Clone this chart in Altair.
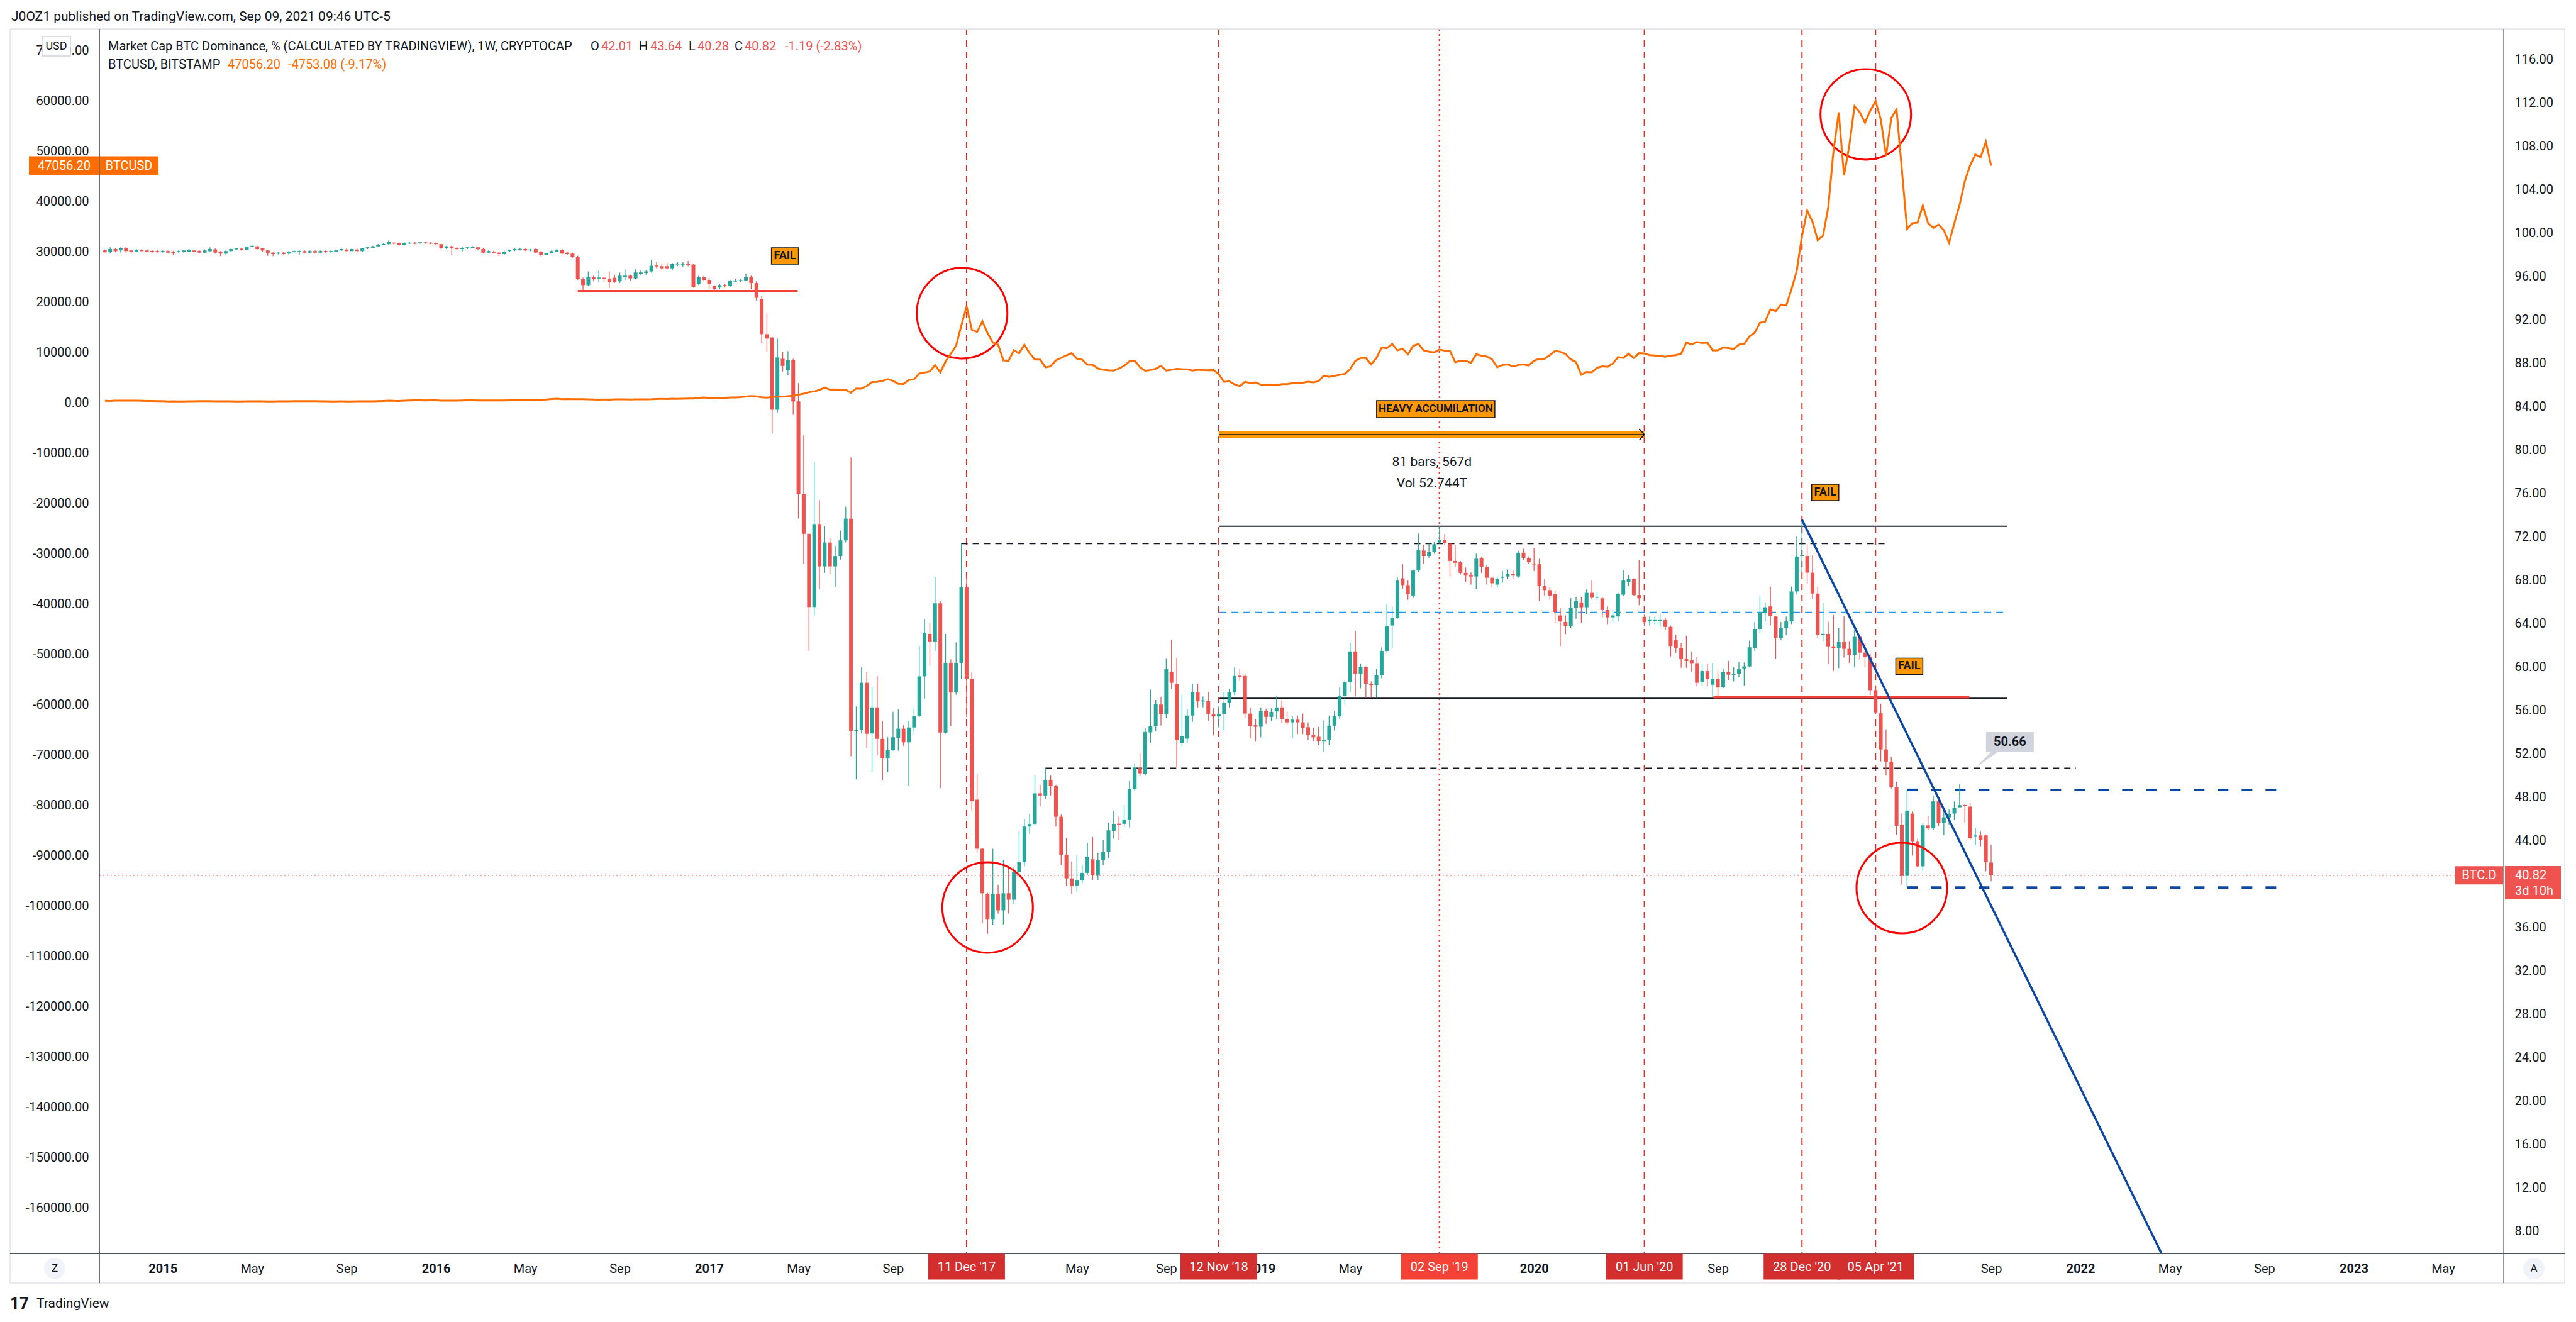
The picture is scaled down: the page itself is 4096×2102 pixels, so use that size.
import altair as alt
import numpy as np
import pandas as pd

W, H = 3823, 1947
FONT = "Roboto"
INK = "#131722"
UP = "#26a69a"
DOWN = "#ef5350"
ORANGE = "#ff6d00"

FIRST_WEEK = "2014-10-20"

# ---------------- BTC.D weekly candles (%) ----------------
btcd_open = [
    98.42, 98.28, 98.55, 98.42, 98.61, 98.42, 98.32, 98.48, 98.42, 98.38,
    98.36, 98.28, 98.36, 98.32, 98.28, 98.28, 98.32, 98.42, 98.38, 98.22,
    98.36, 98.51, 98.28, 98.13, 98.36, 98.51, 98.59, 98.48, 98.77, 98.80,
    98.61, 98.42, 98.22, 98.13, 98.22, 98.13, 98.28, 98.28, 98.36, 98.22,
    98.36, 98.22, 98.36, 98.28, 98.32, 98.42, 98.51, 98.36, 98.51, 98.36,
    98.61, 98.67, 98.80, 98.94, 99.00, 99.13, 99.09, 98.94, 99.06, 99.13,
    99.09, 99.15, 99.13, 99.09, 99.00, 98.61, 98.80, 98.67, 98.55, 98.61,
    98.67, 98.71, 98.55, 98.22, 98.32, 98.22, 98.09, 98.36, 98.44, 98.48,
    98.55, 98.42, 98.55, 98.28, 98.03, 98.17, 98.32, 98.48, 98.22, 98.13,
    97.84, 95.77, 95.23, 95.96, 95.85, 95.91, 95.81, 95.91, 95.58, 96.00,
    96.10, 95.85, 96.29, 96.35, 96.49, 97.01, 96.97, 96.97, 96.77, 97.16,
    97.12, 97.20, 97.12, 95.33, 95.96, 95.71, 95.13, 95.00, 95.23, 95.13,
    95.58, 95.62, 95.66, 96.00,
    95.42, 93.93, 90.7, 90.4, 83.74, 88.44, 87.4, 88.3, 84.5, 76.0,
    72.3, 65.55, 73.2, 69.3, 71.5, 69.3, 70.25, 71.7, 73.7, 54.14,
    54.26, 58.57, 53.9, 56.3, 53.4, 51.6, 52.38, 53.5, 54.34, 53.08,
    54.45, 55.5, 59.16, 63.08, 62.37, 65.9, 53.98, 60.41, 57.67, 60.41,
    67.39, 58.96, 47.8, 43.28, 39.1, 36.74, 39.1, 37.6, 39.17, 38.58,
    41.13, 42.03, 45.32, 45.56, 48.38, 48.18, 49.63, 49.05, 46.22, 42.7,
    40.54, 39.89, 40.34, 41.05, 42.3, 40.8, 42.2, 42.98, 44.92, 45.57,
    45.57, 45.92, 48.76, 50.72, 50.15, 54.0, 54.55, 56.56, 55.68, 59.57,
    58.44, 53.04, 53.42, 55.55, 57.74, 56.86, 56.88, 55.68, 55.47, 55.68,
    56.73, 57.69, 59.2, 59.2, 55.73, 54.67, 54.52, 55.98, 55.43, 55.93,
    56.3, 55.22, 54.92, 55.17, 54.92, 54.47, 53.79, 53.59, 53.21, 53.34,
    54.62, 55.47, 57.39, 58.62, 61.46, 59.4, 60.03, 58.49, 58.37, 59.25,
    61.51, 63.85, 64.53, 68.2, 67.57, 66.61, 68.92, 70.76, 70.26, 70.63,
    71.51, 71.71, 71.39, 69.8, 69.68, 68.7, 68.45, 68.37, 70.08, 69.25,
    68.25, 67.62, 68.25, 68.37, 68.62, 68.37, 70.56, 70.06, 69.55, 69.5,
    67.49, 67.11, 66.74, 64.78, 64.17, 63.8, 65.48, 65.98, 65.53, 66.86,
    66.41, 66.36, 65.28, 64.6, 64.68, 66.69, 67.87, 68.17, 66.66, 64.65,
    64.27, 64.27, 64.27, 64.35, 63.72, 62.51, 61.76, 60.75, 60.63, 60.38,
    58.64, 59.65, 58.39, 58.9, 58.14, 59.57, 59.3, 59.37, 59.9, 60.08,
    61.76, 63.54, 64.98, 65.61, 64.68, 62.72, 63.6, 64.22, 66.99, 70.26,
    70.26, 68.72, 66.8, 63.0, 63.08, 61.93, 61.75, 62.36, 61.7, 61.16,
    62.81, 61.35, 60.95, 57.89, 55.76, 52.43, 51.31, 48.97, 45.51, 40.77,
    46.52, 43.97, 41.65, 45.43, 45.16, 47.64, 45.64, 46.17, 46.52, 47.1,
    47.29, 47.16, 44.37, 44.5, 44.5, 42.01,
]
btcd_high = [
    98.51, 98.71, 98.61, 98.71, 98.80, 98.48, 98.55, 98.55, 98.55, 98.44,
    98.42, 98.42, 98.42, 98.36, 98.42, 98.48, 98.55, 98.48, 98.42, 98.51,
    98.71, 98.61, 98.36, 98.42, 98.61, 98.67, 98.65, 98.80, 98.90, 98.86,
    98.67, 98.48, 98.28, 98.28, 98.28, 98.36, 98.42, 98.42, 98.42, 98.42,
    98.42, 98.42, 98.42, 98.42, 98.51, 98.61, 98.59, 98.61, 98.59, 98.67,
    98.75, 98.86, 99.02, 99.09, 99.35, 99.21, 99.15, 99.17, 99.21, 99.19,
    99.23, 99.21, 99.19, 99.17, 99.06, 98.86, 98.86, 98.75, 98.75, 98.78,
    98.82, 98.78, 98.61, 98.42, 98.40, 98.28, 98.40, 98.51, 98.61, 98.63,
    98.61, 98.57, 98.61, 98.36, 98.22, 98.42, 98.55, 98.55, 98.28, 98.21,
    97.93, 95.91, 96.49, 96.10, 96.58, 96.00, 96.49, 96.19, 96.39, 96.68,
    96.19, 96.68, 96.58, 96.62, 97.55, 97.35, 97.16, 97.26, 97.26, 97.35,
    97.35, 97.45, 97.16, 96.10, 96.10, 95.91, 95.23, 95.33, 95.33, 95.71,
    95.81, 95.77, 96.29, 96.10,
    95.6, 94.2, 92.6, 90.4, 90.3, 89.07, 89.15, 88.44, 86.2, 81.4,
    72.3, 78.96, 75.4, 73.0, 71.9, 71.2, 72.6, 74.8, 79.35, 56.4,
    60.0, 59.6, 58.18, 59.16, 55.04, 53.55, 55.9, 56.1, 54.65, 55.05,
    56.2, 61.98, 64.45, 64.06, 68.3, 66.1, 63.08, 60.73, 62.3, 71.43,
    68.4, 59.55, 50.14, 43.35, 39.2, 43.28, 39.95, 42.22, 41.7, 41.6,
    44.85, 46.03, 46.5, 50.03, 49.17, 50.73, 50.03, 49.17, 46.42, 44.26,
    42.1, 42.65, 41.8, 43.81, 44.36, 42.9, 44.06, 45.67, 46.75, 46.25,
    47.3, 49.52, 51.15, 52.03, 54.37, 57.94, 56.98, 57.26, 60.78, 62.54,
    60.88, 57.49, 56.18, 58.49, 58.49, 57.31, 57.74, 56.23, 56.43, 57.69,
    57.99, 59.99, 59.82, 59.45, 56.3, 55.2, 56.3, 56.18, 56.23, 57.31,
    56.93, 55.93, 55.48, 55.55, 55.73, 54.92, 54.42, 54.5, 55.1, 55.55,
    55.98, 58.14, 58.82, 62.21, 63.34, 60.33, 60.08, 58.69, 59.82, 61.84,
    65.78, 65.61, 68.3, 69.5, 68.0, 69.0, 72.32, 71.31, 71.39, 71.56,
    72.97, 72.27, 71.39, 71.31, 69.8, 69.2, 68.75, 70.46, 70.18, 69.45,
    68.3, 68.37, 68.87, 69.0, 68.92, 70.76, 70.93, 70.21, 70.96, 70.0,
    68.12, 67.37, 67.04, 65.48, 64.78, 66.36, 66.49, 66.49, 67.19, 67.99,
    66.94, 66.49, 65.61, 65.23, 66.86, 68.95, 68.5, 68.2, 69.88, 64.85,
    64.68, 64.68, 64.85, 64.53, 63.85, 63.02, 62.21, 62.89, 61.46, 60.96,
    60.33, 60.33, 60.4, 59.65, 59.9, 60.58, 60.0, 60.5, 60.45, 62.46,
    64.17, 66.54, 65.98, 67.44, 64.73, 64.17, 64.68, 67.44, 72.07, 73.6,
    71.33, 70.32, 67.47, 65.95, 64.2, 64.81, 63.61, 64.73, 62.41, 63.42,
    62.86, 62.22, 61.21, 58.34, 56.63, 54.29, 51.76, 49.45, 46.52, 48.7,
    46.71, 44.18, 45.64, 46.31, 48.17, 47.69, 46.84, 46.89, 47.64, 49.23,
    47.42, 47.5, 45.19, 44.85, 44.58, 43.64,
]
btcd_low = [
    98.21, 98.13, 98.28, 98.22, 98.22, 98.21, 98.24, 98.28, 98.22, 98.22,
    98.22, 98.22, 98.17, 98.03, 98.22, 98.22, 98.26, 98.26, 98.17, 98.17,
    98.28, 98.13, 97.90, 98.05, 98.28, 98.42, 98.40, 98.42, 98.71, 98.51,
    98.32, 97.93, 97.90, 98.05, 98.01, 98.05, 98.22, 98.03, 98.17, 98.17,
    98.17, 98.17, 98.22, 98.22, 98.26, 98.36, 98.28, 98.28, 98.28, 98.28,
    98.55, 98.61, 98.75, 98.90, 98.94, 98.98, 98.86, 98.90, 99.02, 99.00,
    99.04, 99.04, 99.00, 98.94, 98.51, 98.55, 97.97, 98.48, 98.32, 98.55,
    98.61, 98.48, 98.17, 98.17, 98.13, 97.90, 98.03, 98.28, 98.36, 98.42,
    98.36, 98.36, 98.17, 97.84, 97.97, 98.13, 98.28, 98.07, 97.97, 97.74,
    95.71, 94.75, 95.13, 95.58, 95.52, 95.52, 94.94, 95.42, 95.42, 95.71,
    95.62, 95.77, 96.10, 96.19, 96.39, 96.77, 96.58, 96.68, 96.58, 96.97,
    96.87, 96.97, 95.00, 95.23, 95.58, 94.84, 94.75, 94.84, 95.00, 95.04,
    95.52, 95.52, 95.58, 94.84,
    93.8, 89.9, 89.07, 81.6, 83.5, 87.27, 86.9, 83.27, 73.7, 69.5,
    61.5, 64.8, 67.2, 68.7, 68.6, 67.4, 69.9, 71.5, 51.8, 49.67,
    53.9, 52.57, 50.34, 51.9, 49.56, 50.34, 52.3, 52.3, 52.77, 49.1,
    53.87, 55.4, 57.08, 60.14, 61.5, 48.85, 53.87, 54.57, 57.47, 58.9,
    55.4, 46.8, 42.9, 36.4, 35.44, 36.23, 37.3, 36.3, 37.3, 38.2,
    40.93, 41.64, 44.65, 45.44, 47.2, 47.87, 48.18, 45.32, 41.8, 39.85,
    39.1, 39.29, 40.09, 40.85, 40.34, 40.34, 41.72, 42.4, 44.21, 44.11,
    45.25, 45.25, 48.59, 49.97, 50.02, 53.04, 54.12, 54.62, 55.3, 57.99,
    50.78, 52.71, 53.04, 54.97, 56.3, 56.3, 55.05, 53.72, 54.42, 54.17,
    56.3, 57.44, 58.74, 55.38, 53.46, 53.2, 53.54, 54.8, 55.05, 55.17,
    54.87, 54.67, 53.46, 53.84, 53.84, 53.29, 53.21, 52.86, 52.21, 52.86,
    54.17, 55.22, 56.56, 57.69, 57.31, 58.07, 57.19, 57.19, 57.19, 58.99,
    61.26, 61.71, 64.48, 67.24, 66.23, 66.36, 68.75, 69.55, 70.06, 70.46,
    71.39, 71.26, 68.37, 69.25, 68.55, 67.87, 67.62, 67.24, 68.7, 67.62,
    67.37, 67.32, 67.79, 68.12, 68.12, 68.25, 69.88, 69.55, 68.87, 66.11,
    66.61, 66.23, 64.1, 61.96, 63.04, 63.6, 64.48, 64.1, 64.93, 66.28,
    66.18, 64.6, 63.97, 64.1, 64.22, 66.54, 67.49, 66.61, 65.73, 63.8,
    63.85, 63.97, 63.72, 63.42, 61.0, 61.33, 59.95, 59.95, 59.57, 58.24,
    58.32, 58.24, 57.19, 57.39, 58.07, 58.82, 58.69, 59.07, 58.32, 60.0,
    61.51, 63.17, 64.22, 63.85, 60.75, 62.51, 62.97, 63.97, 66.74, 68.75,
    67.65, 66.32, 62.73, 62.41, 60.28, 59.67, 59.93, 60.9, 60.4, 60.02,
    60.73, 60.02, 57.43, 55.68, 51.31, 50.03, 48.84, 44.58, 39.97, 39.71,
    42.64, 41.57, 41.2, 45.03, 44.98, 45.38, 44.5, 45.51, 45.91, 47.05,
    45.7, 44.05, 43.6, 43.51, 41.2, 40.28,
]
btcd_close = [
    98.28, 98.55, 98.36, 98.61, 98.36, 98.28, 98.48, 98.36, 98.32, 98.28,
    98.28, 98.36, 98.22, 98.17, 98.36, 98.42, 98.48, 98.32, 98.22, 98.42,
    98.55, 98.22, 98.13, 98.36, 98.55, 98.61, 98.48, 98.77, 98.84, 98.55,
    98.42, 98.19, 98.09, 98.22, 98.09, 98.28, 98.36, 98.36, 98.22, 98.36,
    98.22, 98.36, 98.28, 98.36, 98.44, 98.55, 98.36, 98.55, 98.36, 98.61,
    98.71, 98.80, 98.96, 99.00, 99.19, 99.06, 98.94, 99.09, 99.13, 99.06,
    99.17, 99.09, 99.06, 99.00, 98.61, 98.80, 98.61, 98.55, 98.67, 98.71,
    98.75, 98.55, 98.22, 98.36, 98.19, 98.09, 98.32, 98.48, 98.55, 98.55,
    98.42, 98.51, 98.22, 98.03, 98.17, 98.36, 98.48, 98.13, 98.09, 97.84,
    95.77, 95.23, 95.96, 95.77, 95.91, 95.81, 95.52, 95.52, 96.10, 96.10,
    95.85, 96.39, 96.39, 96.49, 97.01, 96.97, 96.77, 96.77, 97.16, 97.20,
    97.20, 97.06, 95.07, 95.96, 95.71, 95.33, 94.84, 95.23, 95.13, 95.62,
    95.62, 95.66, 96.00, 95.42,
    94.05, 90.7, 90.3, 83.74, 88.56, 87.78, 88.3, 84.5, 76.0, 72.3,
    65.55, 73.2, 69.3, 71.5, 69.3, 70.25, 71.7, 73.7, 54.14, 54.26,
    58.57, 53.87, 56.3, 53.4, 51.6, 52.38, 53.55, 54.34, 53.08, 54.45,
    55.5, 59.16, 63.16, 62.37, 65.9, 53.98, 60.41, 57.67, 60.41, 67.39,
    58.96, 47.67, 43.28, 39.17, 36.74, 39.1, 37.6, 39.17, 38.58, 41.13,
    42.03, 45.32, 45.56, 48.38, 48.18, 49.63, 49.05, 46.22, 42.7, 40.54,
    39.86, 40.34, 41.05, 42.55, 40.8, 42.2, 42.98, 44.97, 45.57, 45.52,
    45.92, 48.76, 50.77, 50.22, 54.04, 54.55, 56.63, 55.68, 59.82, 58.57,
    53.29, 53.67, 55.55, 57.74, 56.86, 56.93, 55.68, 55.47, 55.68, 56.73,
    57.69, 59.2, 59.15, 55.73, 54.55, 54.52, 55.98, 55.43, 55.88, 56.3,
    55.22, 54.92, 55.17, 54.92, 54.42, 53.79, 53.54, 53.21, 53.34, 54.62,
    55.47, 57.39, 58.62, 61.46, 59.4, 60.03, 58.49, 58.37, 59.25, 61.51,
    63.8, 64.53, 67.99, 67.57, 66.74, 68.92, 70.81, 70.26, 70.63, 71.34,
    71.71, 71.46, 69.8, 69.63, 68.7, 68.45, 68.37, 70.01, 69.25, 68.25,
    67.74, 68.12, 68.35, 68.62, 68.45, 70.56, 70.06, 69.7, 69.5, 67.49,
    67.11, 66.61, 65.1, 64.22, 63.8, 65.48, 66.11, 65.53, 66.86, 66.41,
    66.49, 65.28, 64.6, 64.78, 66.79, 67.99, 68.17, 66.66, 66.36, 64.17,
    64.35, 64.35, 64.35, 63.72, 61.96, 61.76, 60.75, 60.58, 60.38, 58.57,
    59.65, 58.9, 58.9, 58.14, 59.57, 59.32, 59.37, 59.82, 60.08, 61.84,
    63.54, 65.05, 65.53, 64.73, 62.72, 63.6, 64.22, 66.99, 70.21, 70.35,
    68.72, 66.8, 63.0, 63.08, 61.93, 61.75, 62.36, 61.7, 61.16, 62.81,
    61.35, 60.95, 57.89, 55.84, 52.43, 51.31, 48.97, 45.38, 40.77, 46.79,
    43.97, 41.65, 45.43, 45.16, 47.64, 45.64, 46.17, 46.44, 47.05, 47.29,
    47.24, 44.23, 44.5, 44.05, 42.05, 40.82,
]

# ---------------- BTCUSD weekly close (USD) ----------------
btcusd_close = [
    355, 325, 375, 390, 375, 380, 375, 350, 320, 315,
    275, 270, 210, 250, 230, 225, 260, 245, 275, 275,
    285, 260, 250, 255, 235, 225, 230, 240, 240, 235,
    240, 230, 230, 235, 245, 250, 270, 290, 275, 290,
    280, 265, 265, 230, 230, 240, 230, 230, 235, 240,
    245, 265, 285, 325, 380, 330, 325, 360, 395, 435,
    440, 420, 430, 450, 380, 385, 380, 375, 400, 440,
    435, 410, 415, 410, 415, 420, 420, 430, 460, 450,
    460, 455, 445, 530, 580, 685, 760, 665, 700, 650,
    665, 660, 625, 590, 570, 580, 575, 610, 610, 610,
    600, 610, 615, 640, 655, 700, 705, 700, 735, 730,
    765, 775, 790, 900, 1000, 905,
    820, 920, 920, 1010, 1000, 1050, 1190, 1270, 1230, 1020,
    960, 1080, 1180, 1170, 1250, 1350, 1550, 1750, 2050, 2200,
    2500, 2950, 2550, 2600, 2500, 2500, 1950, 2790, 2750, 3300,
    4060, 4100, 4300, 4650, 4300, 3725, 3700, 4475, 4600, 5750,
    5950, 6175, 7440, 6000, 8125, 9700, 11250, 15300, 19100, 14450,
    14025, 16140, 13775, 11910, 11500, 8375, 8300, 10400, 9800, 11500,
    9800, 8540, 8540, 7010, 7180, 8375, 8875, 9375, 9800, 8700,
    8500, 7500, 7500, 6750, 6500, 6400, 6350, 6750, 7300, 8200,
    8290, 7000, 6300, 6450, 6700, 7300, 6340, 6500, 6700, 6620,
    6600, 6340, 6500, 6450, 6400, 6450, 5600, 4110, 4220, 3600,
    3270, 4110, 3850, 4000, 3550, 3550, 3550, 3450, 3650, 3650,
    3850, 3850, 3950, 4110, 4000, 4220, 5340, 5100, 5300, 5500,
    5700, 6620, 8290, 8850, 8850, 7570, 8850, 10915, 10800, 11640,
    10360, 10700, 9580, 11250, 11640, 10360, 10100, 9970, 10525, 10300,
    10250, 8010, 8290, 8290, 7900, 9580, 9300, 9125, 8570, 7010,
    7455, 7570, 7180, 7455, 7570, 7350, 8290, 8680, 8680, 9410,
    10250, 10080, 9650, 8570, 8010, 5500, 6060, 6000, 6900, 7180,
    7100, 7740, 9020, 8850, 9690, 8850, 9800, 9750, 9410, 9350,
    9240, 9100, 9300, 9410, 9700, 11920, 11550, 12030, 11800, 11920,
    10360, 10375, 10930, 10800, 10650, 11500, 11640, 13125, 13870, 15830,
    16100, 18500, 18160, 19450, 19300, 22500, 26150, 33125, 38125, 35900,
    32290, 33125, 38750, 50000, 57675, 45125, 51000, 58900, 57675, 55600,
    58000, 59900, 56280, 49000, 56550, 58250, 46400, 34500, 35640, 35750,
    39150, 35640, 34690, 35360, 34240, 31750, 35640, 39250, 44000, 47125,
    49300, 48740, 51825, 47056.2,
]

# ---------------- axis ticks (labels hidden under the price / date boxes are left out) ----------------
usd_ticks = list(range(70000, -170000, -10000))
btcd_ticks = [116, 112, 108, 104, 100, 96, 92, 88, 84, 80, 76, 72, 68, 64, 60, 56,
              52, 48, 44, 36, 32, 28, 24, 20, 16, 12, 8]
time_ticks = ["2015-01-05", "2015-05-04", "2015-09-07", "2016-01-04", "2016-05-02",
              "2016-09-05", "2017-01-02", "2017-05-01", "2017-09-04",
              "2018-05-07", "2018-09-03", "2019-01-07", "2019-05-06",
              "2020-01-06", "2020-09-07",
              "2021-09-06", "2022-01-03", "2022-05-02", "2022-09-05", "2023-01-02",
              "2023-05-01"]

# ---------------- annotations ----------------
event_dates = ["2017-12-11", "2018-11-12", "2019-09-02", "2020-06-01", "2020-12-28", "2021-04-05"]
event_labels = ["11 Dec '17", "12 Nov '18", "02 Sep '19", "01 Jun '20", "28 Dec '20", "05 Apr '21"]
event_kinds = ["dash", "dash", "dot", "dash", "dash", "dash"]

seg_start = ["2017-12-04", "2018-11-13", "2018-11-13", "2018-11-13", "2018-03-26",
             "2021-05-17", "2021-05-17", "2016-07-11", "2020-09-01"]
seg_end = ["2021-04-19", "2021-09-27", "2021-09-27", "2021-09-27", "2021-12-28",
           "2022-10-01", "2022-10-01", "2017-04-30", "2021-08-08"]
seg_value = [71.4, 73.0, 65.05, 57.15, 50.7, 48.7, 39.7, 94.67, 57.25]
seg_style = ["blackdash", "black", "bluedash", "black", "blackdash",
             "navydash", "navydash", "red", "red"]

trend_start = ("2020-12-28", 73.6)
trend_end = ("2022-04-21", 5.97)

circle_dates = ["2017-12-05", "2018-01-08", "2021-03-23", "2021-05-10"]
circle_values = [92.64, 37.86, 110.96, 39.65]

fail_dates = ["2017-04-13", "2021-01-28", "2021-05-20"]
fail_values = [97.91, 76.12, 60.09]

range_start, range_end, range_value = "2018-11-12", "2020-06-01", 81.45
heavy = ("2019-08-28", 83.8, "HEAVY ACCUMILATION")
range_notes = [("2019-08-23", 78.9, "81 bars, 567d"), ("2019-08-23", 76.93, "Vol 52.744T")]
callout = ("2021-10-01", 53.10, "50.66")

last_btcd = 40.82
last_usd = 47056.2

# ---------------- frames ----------------
n = min(len(btcd_open), len(btcd_high), len(btcd_low), len(btcd_close), len(btcusd_close))
weeks = pd.date_range(FIRST_WEEK, periods=n, freq="7D").strftime("%Y-%m-%d")
cd = pd.DataFrame({
    "date": weeks,
    "o": btcd_open[:n], "h": btcd_high[:n], "l": btcd_low[:n], "c": btcd_close[:n],
    "usd": btcusd_close[:n],
})
cd["h"] = cd[["h", "o", "c"]].max(axis=1)
cd["l"] = cd[["l", "o", "c"]].min(axis=1)
cd["dir"] = np.where(cd["c"] >= cd["o"], "up", "down")
mid = (cd["o"] + cd["c"]) / 2
half = np.maximum((cd["o"] - cd["c"]).abs() / 2, 0.045)
cd["top"] = mid + half
cd["bot"] = mid - half


def dt(s, hh=0, mm=0):
    y, m, d = (int(p) for p in s.split("-"))
    return alt.DateTime(year=y, month=m, date=d, hours=hh, minutes=mm, utc=True)


x_scale = alt.Scale(type="utc", domain=[dt("2014-10-16", 19, 12), dt("2023-07-16", 16, 19)])
yr_scale = alt.Scale(domain=[5.97, 118.84], nice=False, zero=False)
yl_scale = alt.Scale(domain=[-169125, 74250], nice=False, zero=False)

x_axis = alt.Axis(
    values=[dt(s) for s in time_ticks],
    labelExpr="utcmonth(datum.value) == 0 ? utcFormat(datum.value, '%Y') : utcFormat(datum.value, '%b')",
    labelFontWeight={"condition": {"test": "utcmonth(datum.value) == 0", "value": "bold"}, "value": "normal"},
    title=None, grid=False, domain=False, ticks=False, labelPadding=24, labelBaseline="middle",
    labelFontSize=20, labelColor=INK, labelFlush=False, labelOverlap=False, labelFont=FONT,
)
r_axis = alt.Axis(
    orient="right", values=btcd_ticks, format=".2f", title=None, grid=False, domain=False,
    ticks=False, labelPadding=17, labelAlign="left", labelBaseline="middle", labelFontSize=20,
    labelColor=INK, labelFlush=False, labelOverlap=False, labelFont=FONT,
)
l_axis = alt.Axis(
    orient="left", values=usd_ticks,
    labelExpr="(datum.value < 0 ? '-' : '') + format(abs(datum.value), '.2f')",
    title=None, grid=False, domain=False, ticks=False, labelPadding=17, labelAlign="right",
    labelBaseline="middle", labelFontSize=20, labelColor=INK, labelFlush=False,
    labelOverlap=False, labelFont=FONT,
)


# every layer that uses a shared scale carries the identical axis definition
def X(field="date"):
    return alt.X(f"{field}:T", scale=x_scale, axis=x_axis)


def YR(field):
    return alt.Y(f"{field}:Q", scale=yr_scale, axis=r_axis)


def YL(field):
    return alt.Y(f"{field}:Q", scale=yl_scale, axis=l_axis)


def box_path(hw):
    return f"M{-hw},-1H{hw}V1H{-hw}Z"


one = pd.DataFrame({"k": [0]})


def ui_text(txt, px, py, size=20, color=INK, align="left", weight="normal"):
    return alt.Chart(one).mark_text(
        text=txt, fontSize=size, color=color, align=align, baseline="middle",
        fontWeight=weight, font=FONT,
    ).encode(x=alt.value(px), y=alt.value(py))


def ui_rule(x1, y1, x2, y2, color, width):
    return alt.Chart(one).mark_rule(color=color, strokeWidth=width).encode(
        x=alt.value(x1), y=alt.value(y1), x2=alt.value(x2), y2=alt.value(y2))


dircol = alt.Color("dir:N", scale=alt.Scale(domain=["up", "down"], range=[UP, DOWN]), legend=None)

ev = pd.DataFrame({"date": event_dates, "label": event_labels, "kind": event_kinds})
ev_dash = ev[ev["kind"] == "dash"]
ev_dot = ev[ev["kind"] == "dot"]
segs = pd.DataFrame({"d1": seg_start, "d2": seg_end, "v": seg_value, "style": seg_style})
seg_styles = {
    "blackdash": dict(color=INK, strokeWidth=2, strokeDash=[10, 8]),
    "black": dict(color=INK, strokeWidth=2),
    "bluedash": dict(color="#2196f3", strokeWidth=2, strokeDash=[11, 8]),
    "navydash": dict(color="#0d47a1", strokeWidth=4, strokeDash=[17, 21]),
    "red": dict(color="#f44336", strokeWidth=4),
}

circ = pd.DataFrame({"date": circle_dates, "v": circle_values})
fails = pd.DataFrame({"date": fail_dates, "v": fail_values})
heavy_df = pd.DataFrame({"date": [heavy[0]], "v": [heavy[1]], "t": [heavy[2]]})
notes_df = pd.DataFrame(range_notes, columns=["date", "v", "t"])
rng = pd.DataFrame({"d1": [range_start], "d2": [range_end], "v": [range_value]})
call_df = pd.DataFrame({"date": [callout[0]], "v": [callout[1]], "t": [callout[2]]})
btcd_lab = pd.DataFrame({"v": [last_btcd], "v2": [40.14], "v3": [39.36]})
trend = pd.DataFrame({"d1": [trend_start[0]], "v1": [trend_start[1]],
                      "d2": [trend_end[0]], "v2": [trend_end[1]]})

# ---------------- group R: everything on the BTC.D scale ----------------
r_layers = [
    alt.Chart(ev_dash).mark_rule(color="#d32f2f", strokeWidth=2, strokeDash=[10, 8])
    .encode(x=X(), y=alt.value(0), y2=alt.value(H)),
    alt.Chart(ev_dot).mark_rule(color="#f44336", strokeWidth=2.5, strokeDash=[3, 5])
    .encode(x=X(), y=alt.value(0), y2=alt.value(H)),
    alt.Chart(pd.DataFrame({"v": [last_btcd]})).mark_rule(color=DOWN, strokeWidth=1.5, strokeDash=[2, 4])
    .encode(y=YR("v"), x=alt.value(0), x2=alt.value(3746)),
]
for st, kw in seg_styles.items():
    sub = segs[segs["style"] == st]
    r_layers.append(alt.Chart(sub).mark_rule(**kw).encode(x=X("d1"), x2="d2:T", y=YR("v")))
r_layers += [
    alt.Chart(cd).mark_rule(strokeWidth=1.3).encode(x=X(), y=YR("h"), y2="l:Q", color=dircol),
    alt.Chart(cd).mark_bar(size=6).encode(x=X(), y=YR("top"), y2="bot:Q", color=dircol),
    alt.Chart(trend).mark_rule(color="#0d47a1", strokeWidth=3.5)
    .encode(x=X("d1"), x2="d2:T", y=YR("v1"), y2="v2:Q"),
    alt.Chart(circ).mark_point(shape="circle", size=20736, filled=False, color="#ff0000",
                               strokeWidth=3, opacity=1).encode(x=X(), y=YR("v")),
    # date-range tool
    alt.Chart(rng).mark_rule(color="#ff9800", strokeWidth=10).encode(x=X("d1"), x2="d2:T", y=YR("v")),
    alt.Chart(rng).mark_rule(color=INK, strokeWidth=1.5).encode(x=X("d1"), x2="d2:T", y=YR("v")),
    alt.Chart(rng).mark_point(shape="M-0.9,-1L0,0L-0.9,1", size=324, filled=False, color=INK,
                              strokeWidth=1.8, opacity=1).encode(x=X("d2"), y=YR("v")),
    alt.Chart(notes_df).mark_text(fontSize=21, color=INK, font=FONT).encode(x=X(), y=YR("v"), text="t:N"),
    # labels
    alt.Chart(heavy_df).mark_point(shape=box_path(6.963), size=729, filled=True, fill="#ff9800",
                                   stroke=INK, strokeWidth=1.5, opacity=1).encode(x=X(), y=YR("v")),
    alt.Chart(heavy_df).mark_text(fontSize=17, fontWeight="bold", color=INK, font=FONT)
    .encode(x=X(), y=YR("v"), text="t:N"),
    alt.Chart(fails).mark_point(shape=box_path(1.654), size=676, filled=True, fill="#ff9800",
                                stroke=INK, strokeWidth=1.5, opacity=1).encode(x=X(), y=YR("v")),
    alt.Chart(fails).mark_text(text="FAIL", fontSize=18, fontWeight="bold", color=INK, font=FONT)
    .encode(x=X(), y=YR("v")),
    alt.Chart(call_df).mark_point(shape="M-2.375,-1H2.375V1H-1.2L-3.375,2.5L-1.9,1H-2.375Z",
                                  size=1024, filled=True, fill="#d1d4dc", strokeWidth=0, opacity=1)
    .encode(x=X(), y=YR("v")),
    alt.Chart(call_df).mark_text(fontSize=20, fontWeight="bold", color=INK, font=FONT)
    .encode(x=X(), y=YR("v"), text="t:N"),
    # right-scale price labels
    alt.Chart(btcd_lab).mark_point(shape=box_path(2.621), size=841, filled=True, fill=DOWN,
                                   strokeWidth=0, opacity=1).encode(x=alt.value(3784), y=YR("v")),
    alt.Chart(btcd_lab).mark_point(shape=box_path(1.679), size=2809, filled=True, fill=DOWN,
                                   strokeWidth=0, opacity=1).encode(x=alt.value(3869.5), y=YR("v2")),
    alt.Chart(btcd_lab).mark_text(text="BTC.D", fontSize=20, color="white", font=FONT)
    .encode(x=alt.value(3784), y=YR("v")),
    alt.Chart(btcd_lab).mark_text(text="40.82", fontSize=20, color="white", font=FONT, align="left")
    .encode(x=alt.value(3841), y=YR("v")),
    alt.Chart(btcd_lab).mark_text(text="3d 10h", fontSize=20, color="white", font=FONT, align="left")
    .encode(x=alt.value(3841), y=YR("v3")),
    # frame
    ui_rule(-142, 0, 3920, 0, "#e0e3eb", 1.5),
    ui_rule(-142, 1994, 3920, 1994, "#e0e3eb", 1.5),
    ui_rule(-142, 0, -142, 1994, "#e0e3eb", 1.5),
    ui_rule(3920, 0, 3920, 1994, "#e0e3eb", 1.5),
    ui_rule(-142, H, 3920, H, "#50535e", 2),
    ui_rule(0, 0, 0, 1994, "#50535e", 1.2),
    ui_rule(W, 0, W, 1994, "#50535e", 1.2),
    # time-scale event boxes
    alt.Chart(ev_dash).mark_point(shape=box_path(2.976), size=1681, filled=True, fill="#d32f2f",
                                  strokeWidth=0, opacity=1).encode(x=X(), y=alt.value(1968)),
    alt.Chart(ev_dot).mark_point(shape=box_path(2.976), size=1681, filled=True, fill="#f44336",
                                 strokeWidth=0, opacity=1).encode(x=X(), y=alt.value(1968)),
    alt.Chart(ev).mark_text(color="white", fontSize=20, font=FONT).encode(x=X(), y=alt.value(1969), text="label:N"),
    # USD badge, Z / A buttons
    alt.Chart(one).mark_point(shape=box_path(1.452), size=961, filled=True, fill="white",
                              stroke="#d1d4dc", strokeWidth=1.5, opacity=1)
    .encode(x=alt.value(-68.5), y=alt.value(27.5)),
    ui_text("USD", -68.5, 28, size=18, align="center"),
    alt.Chart(one).mark_point(shape="circle", size=1156, filled=True, fill="#f0f3fa", strokeWidth=0, opacity=1)
    .encode(x=alt.value(-71), y=alt.value(1971)),
    alt.Chart(one).mark_point(shape="circle", size=1156, filled=True, fill="#f0f3fa", strokeWidth=0, opacity=1)
    .encode(x=alt.value(3871), y=alt.value(1971)),
    ui_text("Z", -71, 1971, size=17, align="center"),
    ui_text("A", 3871, 1971, size=17, align="center"),
    # header, legend, logo
    ui_text("J0OZ1 published on TradingView.com, Sep 09, 2021 09:46 UTC-5", -140, -19, size=21),
    ui_text("Market Cap BTC Dominance, % (CALCULATED BY TRADINGVIEW), 1W, CRYPTOCAP", 14, 28),
    ui_text("O", 781, 28), ui_text("42.01", 798, 28, color=DOWN),
    ui_text("H", 858, 28), ui_text("43.64", 876, 28, color=DOWN),
    ui_text("L", 937, 28), ui_text("40.28", 951, 28, color=DOWN),
    ui_text("C", 1010, 28), ui_text("40.82", 1026, 28, color=DOWN),
    ui_text("-1.19 (-2.83%)", 1090, 28, color=DOWN),
    ui_text("BTCUSD, BITSTAMP", 14, 57),
    ui_text("47056.20", 204, 57, color=ORANGE),
    ui_text("-4753.08 (-9.17%)", 300, 57, color=ORANGE),
    ui_text("17", -142, 2027, size=26, weight="bold"),
    ui_text("TradingView", -100, 2027, size=21),
]
R = alt.layer(*r_layers)

# ---------------- group L: BTCUSD on the left scale ----------------
usd_label = pd.DataFrame({"v": [last_usd]})
L = alt.layer(
    alt.Chart(cd).mark_line(color=ORANGE, strokeWidth=3).encode(x=X(), y=YL("usd")),
    alt.Chart(usd_label).mark_point(shape=box_path(6.867), size=900, filled=True, fill=ORANGE,
                                    strokeWidth=0, opacity=1)
    .encode(x=alt.value(-9), y=YL("v")),
    alt.Chart(usd_label).mark_text(text="47056.20", color="white", fontSize=20, font=FONT)
    .encode(x=alt.value(-56), y=YL("v")),
    alt.Chart(usd_label).mark_text(text="BTCUSD", color="white", fontSize=20, font=FONT)
    .encode(x=alt.value(47), y=YL("v")),
    ui_rule(0, 0, 0, 1994, "#50535e", 1.2),
)

chart = (
    alt.layer(R, L)
    .resolve_scale(y="independent")
    .properties(
        width=W, height=H,
        padding={"left": 150, "top": 38, "right": 100, "bottom": 95},
        autosize=alt.AutoSizeParams(type="none"),
        background="white",
    )
    .configure_view(stroke=None)
    .configure(font=FONT)
)

chart.save("out.html", embed_options={"renderer": "svg", "actions": False})
